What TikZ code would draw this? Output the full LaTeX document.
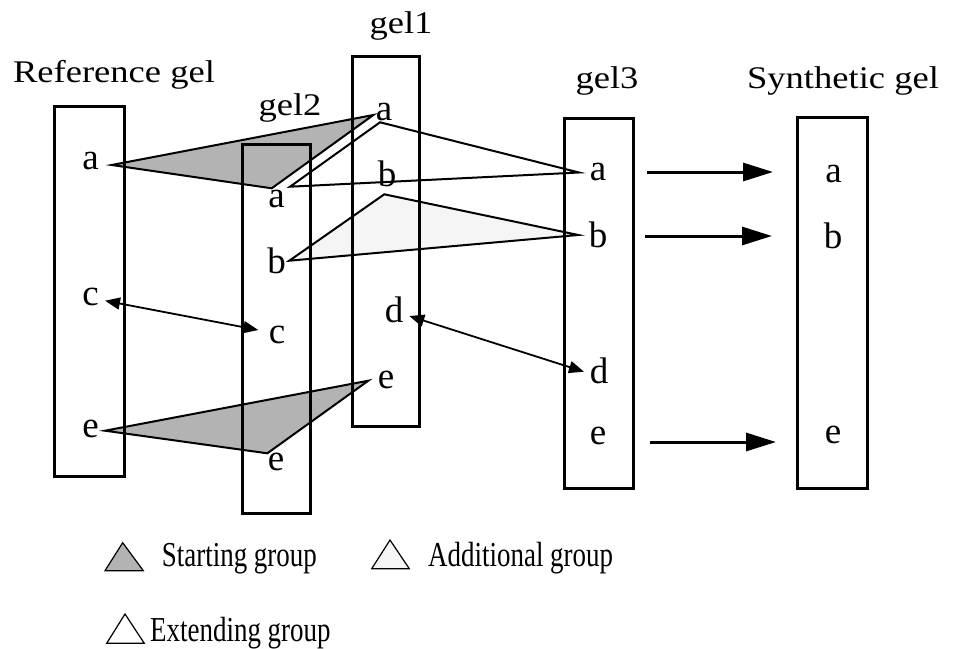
\documentclass[tikz,border=0pt]{standalone}
\usepackage{fontspec}
\setmainfont{Liberation Serif}
\newfontfamily\titlefont{Liberation Serif}[FakeStretch=1.16]
\newfontfamily\legendfont{Liberation Serif}[FakeStretch=0.77]
\usetikzlibrary{arrows.meta}
\definecolor{startgray}{RGB}{179,179,179}
\definecolor{addgray}{RGB}{245,245,245}
\tikzset{
  gelbox/.style={draw, line width=3pt, inner sep=0pt, outer sep=0pt},
  band/.style={font=\fontsize{37}{40}\selectfont, anchor=base, inner sep=0pt},
  geltitle/.style={font=\titlefont\fontsize{31.5}{34}\selectfont, anchor=base, inner sep=0pt},
  legendtext/.style={font=\legendfont\fontsize{35}{38}\selectfont, anchor=base west, inner sep=0pt},
  group/.style={draw, line width=2pt, line join=miter},
  starting/.style={group, fill=startgray},
  additional/.style={group, fill=addgray},
  extending/.style={group, fill=white},
  pair/.style={line width=1.8pt, {Triangle[length=15pt,width=12pt]}-{Triangle[length=15pt,width=12pt]}},
  transfer/.style={line width=3pt, -{Triangle[length=30pt,width=18pt]}}
}
\begin{document}
\begin{tikzpicture}[x=1pt,y=-1pt]
\useasboundingbox (0,0) rectangle (955,648);

% corner points of the matching groups
\coordinate (sa1) at (111.7,165);
\coordinate (sa2) at (373.3,115);
\coordinate (sa3) at (271.7,188.3);
\coordinate (xa1) at (290,186.7);
\coordinate (xa2) at (380,122.3);
\coordinate (xa3) at (579,172.5);
\coordinate (ab1) at (289.3,260.7);
\coordinate (ab2) at (384.3,194.3);
\coordinate (ab3) at (578.3,235);
\coordinate (se1) at (105,430.7);
\coordinate (se2) at (368.3,380.7);
\coordinate (se3) at (267.3,453.3);

% groups
\draw[starting] (sa1) -- (sa2) -- (sa3) -- cycle;
\draw[extending] (xa1) -- (xa2) -- (xa3) -- cycle;
\draw[additional] (ab1) -- (ab2) -- (ab3) -- cycle;
\draw[starting] (se1) -- (se2) -- (se3) -- cycle;

% gels
\node[gelbox, minimum width=70pt, minimum height=370pt] (refgel) at (89,291) {};
\node[gelbox, minimum width=68pt, minimum height=369pt] (gel2) at (276,328.5) {};
\node[gelbox, minimum width=67pt, minimum height=370pt] (gel1) at (385.5,241) {};
\node[gelbox, minimum width=69pt, minimum height=370pt] (gel3) at (598.5,303) {};
\node[gelbox, minimum width=70pt, minimum height=371pt] (syngel) at (832,302.5) {};

% titles
\node[geltitle] (t-ref) at (114,82) {Reference gel};
\node[geltitle] (t-g2) at (290,115) {gel2};
\node[geltitle] (t-g1) at (401,33) {gel1};
\node[geltitle] (t-g3) at (607,88) {gel3};
\node[geltitle] (t-syn) at (843,88) {Synthetic gel};

% band labels
\node[band] (r-a) at (90.5,169) {a};
\node[band] (r-c) at (90.5,305) {c};
\node[band] (r-e) at (90.5,437) {e};

\node[band] (g2-a) at (276.5,207) {a};
\node[band] (g2-b) at (276.5,273) {b};
\node[band] (g2-c) at (277,343) {c};
\node[band] (g2-e) at (276,470) {e};

\node[band] (g1-a) at (384,120) {a};
\node[band] (g1-b) at (387,186) {b};
\node[band] (g1-d) at (394,322) {d};
\node[band] (g1-e) at (386,388) {e};

\node[band] (g3-a) at (598,180) {a};
\node[band] (g3-b) at (598,247) {b};
\node[band] (g3-d) at (599,383) {d};
\node[band] (g3-e) at (598,444) {e};

\node[band] (s-a) at (833.5,182) {a};
\node[band] (s-b) at (833,248) {b};
\node[band] (s-e) at (833,443) {e};

% matched single bands
\coordinate (pc1) at (105,300.7);
\coordinate (pc2) at (258.3,330);
\coordinate (pd1) at (409.3,316);
\coordinate (pd2) at (584,371.7);
\draw[pair] (pc1) -- (pc2);
\draw[pair] (pd1) -- (pd2);

% transfer to the synthetic gel
\coordinate (ta1) at (647,172);
\coordinate (ta2) at (773,172);
\coordinate (tb1) at (645,236);
\coordinate (tb2) at (772,236);
\coordinate (te1) at (650,442);
\coordinate (te2) at (776,442);
\draw[transfer] (ta1) -- (ta2);
\draw[transfer] (tb1) -- (tb2);
\draw[transfer] (te1) -- (te2);

% legend
\coordinate (l1a) at (105,570.7);
\coordinate (l1b) at (143.3,570.7);
\coordinate (l1c) at (122.7,542.7);
\coordinate (l2a) at (371.7,568.7);
\coordinate (l2b) at (409.3,568.7);
\coordinate (l2c) at (390,540);
\coordinate (l3a) at (106.7,643.3);
\coordinate (l3b) at (144.3,643.3);
\coordinate (l3c) at (125,614);
\draw[starting, line width=1.2pt] (l1a) -- (l1b) -- (l1c) -- cycle;
\draw[additional, line width=1.2pt] (l2a) -- (l2b) -- (l2c) -- cycle;
\draw[extending, line width=1.2pt] (l3a) -- (l3b) -- (l3c) -- cycle;
\node[legendtext] (lt1) at (161.7,566.7) {Starting group};
\node[legendtext] (lt2) at (428,566.7) {Additional group};
\node[legendtext] (lt3) at (150,641.7) {Extending group};
\end{tikzpicture}
\end{document}
